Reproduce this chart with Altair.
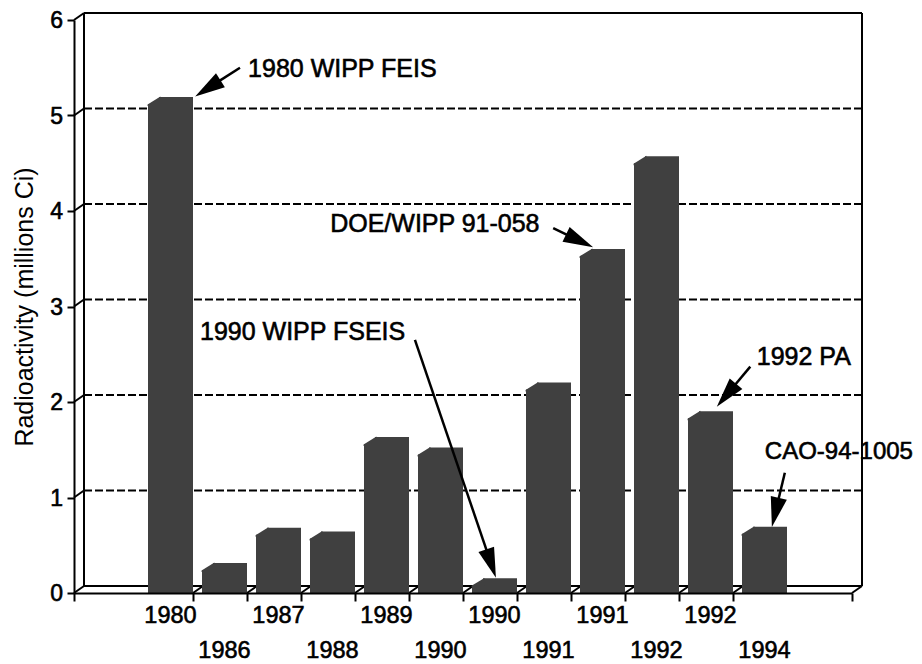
import math
import altair as alt
import pandas as pd

# ---------------- data ----------------
categories = ["1980", "1986", "1987", "1988", "1989", "1990",
              "1990", "1991", "1991", "1992", "1992", "1994"]
values = [5.12, 0.24, 0.61, 0.57, 1.56, 1.45, 0.08, 2.13, 3.53, 4.50, 1.83, 0.62]

ann_text = ["1980 WIPP FEIS", "DOE/WIPP 91-058", "1990 WIPP FSEIS", "1992 PA", "CAO-94-1005"]
ann_text_x = [2.02, 3.54, 1.13, 11.44, 11.59]
ann_text_y = [5.49, 3.86, 2.73, 2.47, 1.48]
ann_font = [25, 25, 25, 25, 24]
ann_tail_x = [1.87, 7.67, 5.11, 11.32, 11.96]
ann_tail_y = [5.50, 3.82, 2.65, 2.37, 1.26]
ann_tip_x = [1.04, 8.41, 6.61, 10.70, 11.72]
ann_tip_y = [5.20, 3.62, 0.16, 1.95, 0.69]

y_ticks = [0, 1, 2, 3, 4, 5, 6]

# ---------------- layout constants ----------------
W, H = 778, 573
X_MIN, X_MAX = -65 / 54, 12 + 65 / 54
PX_X = W / (X_MAX - X_MIN)
PX_Y = H / 6.0
DX, DY = 10, -7          # 3-D depth offset (px)
FONT = "Liberation Sans"
FS_ANN = 25
FS_TICK = 23.5
TXT_STROKE = 0.6
BAR = "#404040"

xscale = alt.Scale(domain=[X_MIN, X_MAX], nice=False, zero=False)
yscale = alt.Scale(domain=[0, 6], nice=False)
xaxis = alt.Axis(values=[X_MIN] + list(range(1, 12)) + [X_MAX], labels=False, title=None,
                 grid=False, tickSize=8, tickWidth=2, tickColor="black", domainWidth=2,
                 domainColor="black", zindex=1)
yaxis = alt.Axis(values=y_ticks, labels=False, title="Radioactivity (millions Ci)", grid=False,
                 tickSize=7, tickWidth=2, tickColor="black", domainWidth=2, domainColor="black",
                 titleFont=FONT, titleFontSize=FS_ANN, titleFontWeight="normal",
                 titleColor="black", titleAngle=270, titleBaseline="alphabetic", titleX=-42,
                 zindex=1)


def X(f):
    return alt.X(f, type="quantitative", scale=xscale, axis=xaxis)


def Y(f):
    return alt.Y(f, type="quantitative", scale=yscale, axis=yaxis)


def txt(**kw):
    base = dict(font=FONT, color="black", stroke="black", strokeWidth=TXT_STROKE)
    base.update(kw)
    return base


# ---------------- bars ----------------
bars = pd.DataFrame({
    "cat": categories,
    "value": values,
    "i": list(range(len(values))),
})
bars["x0"] = bars["i"] + 9 / 54
bars["x1"] = bars["i"] + 1
bars["xc"] = (bars["x0"] + bars["x1"]) / 2
bars["row"] = bars["i"] % 2
bars["zero"] = 0.0

ticks_df = pd.DataFrame({"v": y_ticks, "lab": [str(t) for t in y_ticks], "xa": X_MIN})

# ---------------- wall / floor lines ----------------
back_solid = pd.DataFrame({
    "x": [X_MIN, X_MAX, X_MIN, X_MIN],
    "x2": [X_MIN, X_MAX, X_MAX, X_MAX],
    "y": [0, 0, 6, 0],
    "y2": [6, 6, 6, 0],
})
back_dash = pd.DataFrame({
    "x": [X_MIN] * 5, "x2": [X_MAX] * 5,
    "y": [1, 2, 3, 4, 5], "y2": [1, 2, 3, 4, 5],
})
diag_x = [X_MIN] * len(y_ticks) + list(range(1, 12)) + [X_MAX]
diag_y = list(y_ticks) + [0] * 11 + [0]
diags = pd.DataFrame({"x": diag_x, "x2": diag_x, "y": diag_y, "y2": diag_y})

# ---------------- annotations ----------------
HL = 30.0
rows = []
for k in range(len(ann_text)):
    dxp = (ann_tip_x[k] - ann_tail_x[k]) * PX_X
    dyp = -(ann_tip_y[k] - ann_tail_y[k]) * PX_Y
    L = math.hypot(dxp, dyp)
    ux, uy = dxp / L, dyp / L
    bx = ann_tip_x[k] - ux * (HL - 4) / PX_X
    by = ann_tip_y[k] + uy * (HL - 4) / PX_Y
    cx = ann_tip_x[k] - ux * (HL / 2) / PX_X
    cy = ann_tip_y[k] + uy * (HL / 2) / PX_Y
    ang = math.degrees(math.atan2(ux, -uy)) % 360
    rows.append({"text": ann_text[k], "tx": ann_text_x[k], "ty": ann_text_y[k],
                 "fs": ann_font[k],
                 "ax": ann_tail_x[k], "ay": ann_tail_y[k], "bx": bx, "by": by,
                 "cx": cx, "cy": cy, "angle": ang})
ann = pd.DataFrame(rows)

# ---------------- layers ----------------
l_back = alt.Chart(back_solid).mark_rule(
    color="black", strokeWidth=2, xOffset=DX, x2Offset=DX, yOffset=DY, y2Offset=DY
).encode(x=X("x"), x2="x2", y=Y("y"), y2="y2")

l_grid = alt.Chart(back_dash).mark_rule(
    color="black", strokeWidth=2, strokeDash=[8, 3],
    xOffset=DX, x2Offset=DX, yOffset=DY, y2Offset=DY
).encode(x=X("x"), x2="x2", y=Y("y"), y2="y2")

l_diag = alt.Chart(diags).mark_rule(
    color="black", strokeWidth=2, x2Offset=DX, y2Offset=DY
).encode(x=X("x"), x2="x2", y=Y("y"), y2="y2")

l_top = alt.Chart(bars).mark_rect(color=BAR, xOffset=11, yOffset=DY, y2Offset=3).encode(
    x=X("x0"), x2="x1", y=Y("value"), y2="value")

l_cham = alt.Chart(bars).mark_point(
    shape="M-1.05,0.65L1.05,-0.65L1.05,0.9L-1.05,0.9Z", size=150, filled=True, fill=BAR,
    opacity=1, strokeWidth=0, xOffset=6, yOffset=-3.5
).encode(x=X("x0"), y=Y("value"))

l_front = alt.Chart(bars).mark_rect(color=BAR).encode(
    x=X("x0"), x2="x1", y=Y("value"), y2="zero")

l_ytick = alt.Chart(ticks_df).mark_text(
    **txt(fontSize=23, align="right", baseline="middle", dx=-11, dy=1)
).encode(x=X("xa"), y=Y("v"), text="lab:N")

l_lab0 = alt.Chart(bars).transform_filter("datum.row == 0").mark_text(
    **txt(fontSize=FS_TICK, align="center", baseline="middle", dy=23)
).encode(x=X("xc"), y=Y("zero"), text="cat:N")

l_lab1 = alt.Chart(bars).transform_filter("datum.row == 1").mark_text(
    **txt(fontSize=FS_TICK, align="center", baseline="middle", dy=58)
).encode(x=X("xc"), y=Y("zero"), text="cat:N")

l_atext = alt.Chart(ann).mark_text(
    **txt(align="left", baseline="middle")
).encode(x=X("tx"), y=Y("ty"), text="text:N", size=alt.Size("fs:Q", scale=None))

l_aline = alt.Chart(ann).mark_rule(color="black", strokeWidth=2.5).encode(
    x=X("ax"), x2="bx", y=Y("ay"), y2="by")

l_ahead = alt.Chart(ann).mark_point(
    shape="M0,-1L0.55,1L-0.55,1Z", size=900, filled=True, fill="black", opacity=1,
    strokeWidth=0
).encode(x=X("cx"), y=Y("cy"), angle=alt.Angle("angle:Q", scale=None))

chart = alt.layer(
    l_grid, l_back, l_diag, l_top, l_cham, l_front, l_ytick,
    l_lab0, l_lab1, l_aline, l_ahead, l_atext
).properties(
    width=W, height=H,
    autosize=alt.AutoSizeParams(type="none"),
    padding={"left": 66, "top": 12, "right": 62, "bottom": 70},
    background="white",
).configure_view(strokeWidth=0)

chart.save("out.html", embed_options={"renderer": "svg", "actions": False})
